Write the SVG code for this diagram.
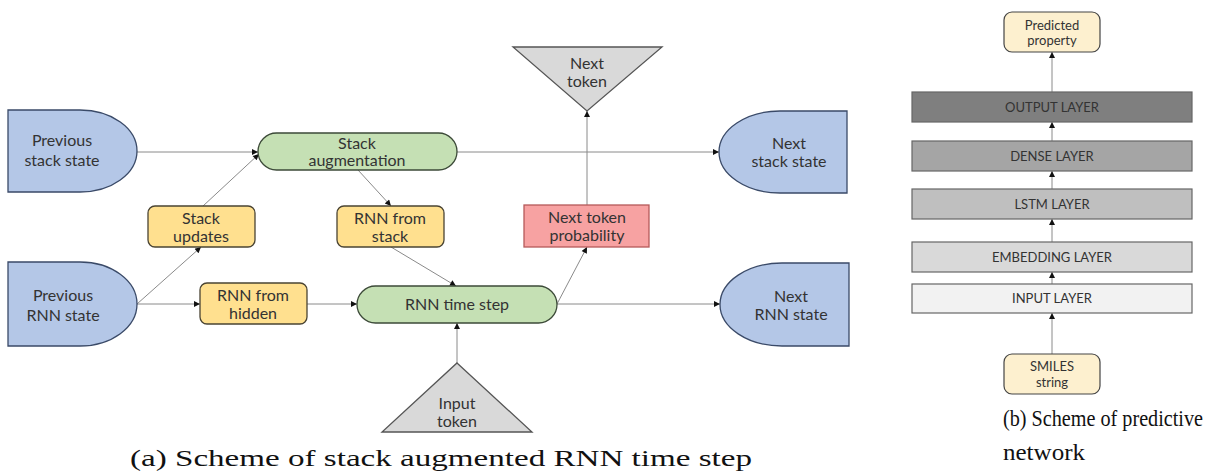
<svg xmlns="http://www.w3.org/2000/svg" width="1210" height="476" viewBox="0 0 1210 476">
  <defs>
    <marker id="arr" viewBox="0 0 10 10" refX="10" refY="5" markerWidth="8" markerHeight="6" markerUnits="userSpaceOnUse" orient="auto">
      <path d="M0,0 L10,5 L0,10 Z" fill="#111"/>
    </marker>
  </defs>
  <style>
    .lbl { font-family: Lato, "Open Sans", "Liberation Sans", sans-serif; font-size: 16px; fill: #333; text-anchor: middle; }
    .sm { font-family: Lato, "Open Sans", "Liberation Sans", sans-serif; font-size: 13px; fill: #333; text-anchor: middle; }
    .state { fill: #b4c7e7; stroke: #3a4a68; stroke-width: 1.3; }
    .op { fill: #c5e0b4; stroke: #3c4a38; stroke-width: 1.3; }
    .hint { fill: #ffe08f; stroke: #4a4433; stroke-width: 1.3; }
    .tok { fill: #d9d9d9; stroke: #555; stroke-width: 1.3; }
    .prob { fill: #f7a2a2; stroke: #b55a5a; stroke-width: 1.3; }
    .layer { stroke: #666; stroke-width: 1.2; }
    .io { fill: #fdf0cf; stroke: #444; stroke-width: 1.2; }
    .edge { fill: none; stroke: #8a8a8a; stroke-width: 1; marker-end: url(#arr); }
    .cap { font-family: "Liberation Serif", "DejaVu Serif", serif; font-size: 24px; fill: #111; }
  </style>

  <!-- connectors -->
  <g id="connectors">
    <line class="edge" x1="137" y1="152" x2="258" y2="152"/>
    <line class="edge" x1="203" y1="206" x2="259" y2="154"/>
    <line class="edge" x1="137" y1="304" x2="201" y2="247"/>
    <line class="edge" x1="137" y1="304" x2="200" y2="304"/>
    <line class="edge" x1="307" y1="304" x2="357" y2="304"/>
    <line class="edge" x1="358" y1="170" x2="391" y2="206"/>
    <line class="edge" x1="391" y1="247" x2="456" y2="286"/>
    <line class="edge" x1="457" y1="363" x2="457" y2="323"/>
    <line class="edge" x1="557" y1="304" x2="587" y2="247"/>
    <line class="edge" x1="587" y1="205" x2="587" y2="111"/>
    <line class="edge" x1="457" y1="152" x2="719" y2="152"/>
    <line class="edge" x1="557" y1="304" x2="720" y2="304"/>
    <!-- predictive network stack -->
    <line class="edge" x1="1052" y1="354" x2="1052" y2="313"/>
    <line class="edge" x1="1052" y1="284" x2="1052" y2="272"/>
    <line class="edge" x1="1052" y1="242" x2="1052" y2="219"/>
    <line class="edge" x1="1052" y1="189" x2="1052" y2="171"/>
    <line class="edge" x1="1052" y1="141" x2="1052" y2="122"/>
    <line class="edge" x1="1052" y1="92" x2="1052" y2="52"/>
  </g>

  <g id="prev-stack-state">
    <path class="state" d="M8,110 H80 A57,41 0 0 1 80,192 H8 Z"/>
    <text class="lbl" x="62" y="146">Previous</text>
    <text class="lbl" x="62" y="166">stack state</text>
  </g>
  <g id="prev-rnn-state">
    <path class="state" d="M8,262 H80 A57,42 0 0 1 80,346 H8 Z"/>
    <text class="lbl" x="63" y="301">Previous</text>
    <text class="lbl" x="63" y="321">RNN state</text>
  </g>
  <g id="stack-augmentation">
    <rect class="op" x="258" y="133" width="199" height="37" rx="18.5"/>
    <text class="lbl" x="357" y="149">Stack</text>
    <text class="lbl" x="357" y="166">augmentation</text>
  </g>
  <g id="stack-updates">
    <rect class="hint" x="148" y="206" width="107" height="41" rx="7"/>
    <text class="lbl" x="201" y="224">Stack</text>
    <text class="lbl" x="201" y="242">updates</text>
  </g>
  <g id="rnn-from-stack">
    <rect class="hint" x="337" y="206" width="107" height="41" rx="7"/>
    <text class="lbl" x="390" y="224">RNN from</text>
    <text class="lbl" x="390" y="242">stack</text>
  </g>
  <g id="rnn-from-hidden">
    <rect class="hint" x="200" y="283" width="107" height="41" rx="7"/>
    <text class="lbl" x="253" y="301">RNN from</text>
    <text class="lbl" x="253" y="319">hidden</text>
  </g>
  <g id="rnn-time-step">
    <rect class="op" x="357" y="286" width="200" height="37" rx="18.5"/>
    <text class="lbl" x="457" y="310">RNN time step</text>
  </g>
  <g id="input-token">
    <path class="tok" d="M457,363 L532,432 L382,432 Z"/>
    <text class="lbl" x="457" y="409">Input</text>
    <text class="lbl" x="457" y="427">token</text>
  </g>
  <g id="next-token-probability">
    <rect class="prob" x="524" y="205" width="125" height="42"/>
    <text class="lbl" x="587" y="223">Next token</text>
    <text class="lbl" x="587" y="241">probability</text>
  </g>
  <g id="next-token">
    <path class="tok" d="M513,47 L662,47 L587,111 Z"/>
    <text class="lbl" x="587" y="69">Next</text>
    <text class="lbl" x="587" y="87">token</text>
  </g>
  <g id="next-stack-state">
    <path class="state" d="M847,111 H780 A61,41 0 0 0 780,193 H847 Z"/>
    <text class="lbl" x="789" y="149">Next</text>
    <text class="lbl" x="789" y="167">stack state</text>
  </g>
  <g id="next-rnn-state">
    <path class="state" d="M849,263 H782 A62,41.5 0 0 0 782,346 H849 Z"/>
    <text class="lbl" x="791" y="302">Next</text>
    <text class="lbl" x="791" y="320">RNN state</text>
  </g>

  <!-- predictive network -->
  <g id="predicted-property">
    <rect class="io" x="1004" y="12" width="96" height="40" rx="8"/>
    <text class="sm" x="1052" y="30" font-size="14">Predicted</text>
    <text class="sm" x="1052" y="45" font-size="14">property</text>
  </g>
  <g id="output-layer">
    <rect class="layer" x="912" y="92" width="280" height="30" fill="#7f7f7f"/>
    <text class="sm" x="1052" y="112">OUTPUT LAYER</text>
  </g>
  <g id="dense-layer">
    <rect class="layer" x="912" y="141" width="280" height="30" fill="#a5a5a5"/>
    <text class="sm" x="1052" y="161">DENSE LAYER</text>
  </g>
  <g id="lstm-layer">
    <rect class="layer" x="912" y="189" width="280" height="30" fill="#bfbfbf"/>
    <text class="sm" x="1052" y="209">LSTM LAYER</text>
  </g>
  <g id="embedding-layer">
    <rect class="layer" x="912" y="242" width="280" height="30" fill="#d9d9d9"/>
    <text class="sm" x="1052" y="262">EMBEDDING LAYER</text>
  </g>
  <g id="input-layer">
    <rect class="layer" x="912" y="284" width="280" height="29" fill="#f2f2f2"/>
    <text class="sm" x="1052" y="303">INPUT LAYER</text>
  </g>
  <g id="smiles-string">
    <rect class="io" x="1004" y="354" width="96" height="40" rx="8"/>
    <text class="sm" x="1052" y="371">SMILES</text>
    <text class="sm" x="1052" y="387">string</text>
  </g>

  <!-- captions -->
  <text class="cap" x="130" y="466" font-size="25" textLength="622" lengthAdjust="spacingAndGlyphs">(a) Scheme of stack augmented RNN time step</text>
  <text class="cap" x="1003" y="426" font-size="22" textLength="200" lengthAdjust="spacingAndGlyphs">(b) Scheme of predictive</text>
  <text class="cap" x="1003" y="460" font-size="22" textLength="82" lengthAdjust="spacingAndGlyphs">network</text>
</svg>
